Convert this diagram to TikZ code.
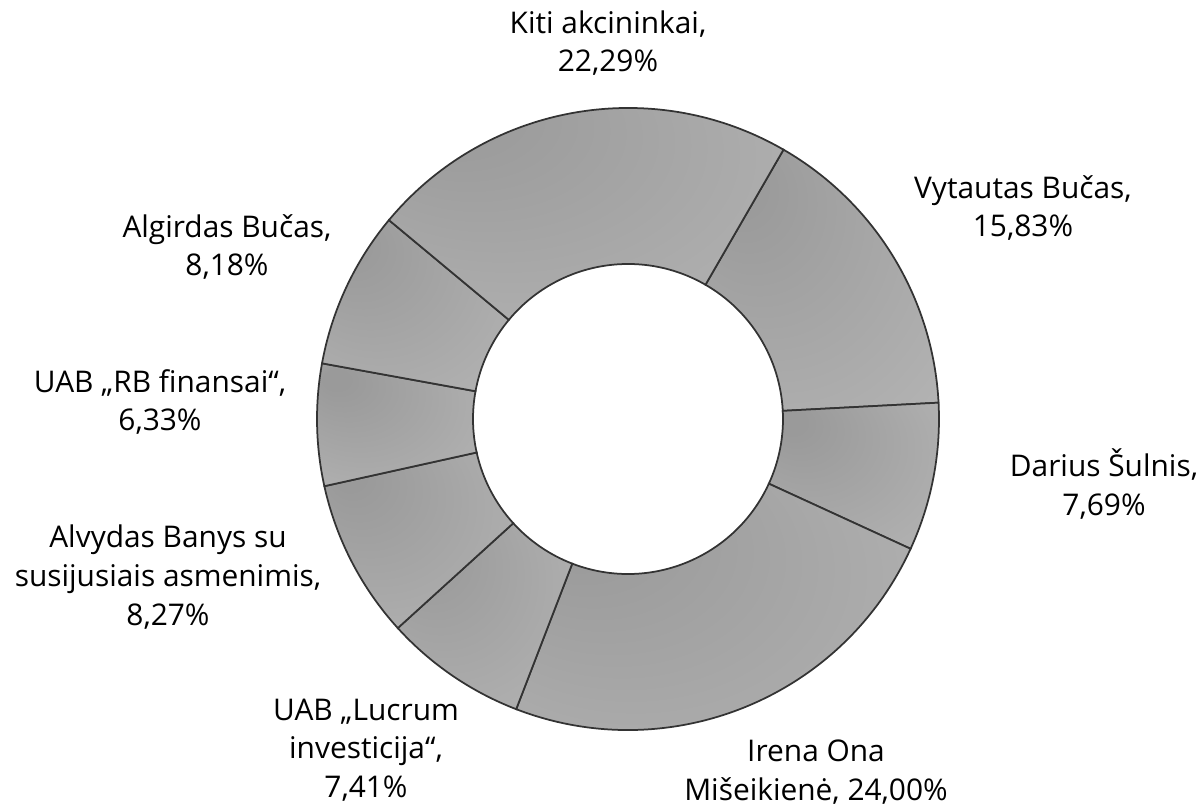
\documentclass[tikz,border=0pt]{standalone}
\usepackage{fontspec}
\setmainfont{Open Sans}
\usepackage{xcolor}
\usetikzlibrary{positioning}

\definecolor{segdark}{RGB}{154,154,154}
\definecolor{seglight}{RGB}{182,182,182}
\definecolor{segline}{RGB}{51,51,51}
\pgfdeclareradialshading{segfill}{\pgfpoint{-20bp}{20bp}}{color(0bp)=(segdark); color(4bp)=(segdark); color(45bp)=(seglight); color(50bp)=(seglight)}

\begin{document}
\begin{tikzpicture}[x=0.02cm, y=0.02cm,
            every node/.append style = {align = center, inner sep = 0pt,
                font = \fontsize{17}{22}\selectfont},
            slice/.style = {shading = segfill, shade, draw = segline, line width = 0.35mm}]
            \useasboundingbox (-628,-391) rectangle (575,419);
            % ring, clockwise from 60 degrees
            \foreach \a/\b in {60/3.01, 3.01/-24.67, -24.67/-111.07, -111.07/-137.75,
                               -137.75/-167.52, -167.52/-190.31, -190.31/-219.76, -219.76/-300}
                \path[slice] (\a:311) arc[start angle=\a, end angle=\b, radius=311]
                    -- (\b:155) arc[start angle=\b, end angle=\a, radius=155] -- cycle;
            % labels
            \node (kiti) at (-20,376) {Kiti akcininkai,\\22,29\%};
            \node (vytautas) at (395,211) {Vytautas Bučas,\\15,83\%};
            \node (darius) at (476,-65) {Darius Šulnis,\\7,69\%};
            \node (irena) at (188,-353) {Irena Ona\\Mišeikienė, 24,00\%};
            \node (lucrum) at (-262,-331) {UAB „Lucrum\\investicija“,\\7,41\%};
            \node (alvydas) at (-460,-158) {Alvydas Banys su\\susijusiais asmenimis,\\8,27\%};
            \node (rbfin) at (-468,17) {UAB „RB finansai“,\\6,33\%};
            \node (algirdas) at (-401,172) {Algirdas Bučas,\\8,18\%};
        \end{tikzpicture}
\end{document}
